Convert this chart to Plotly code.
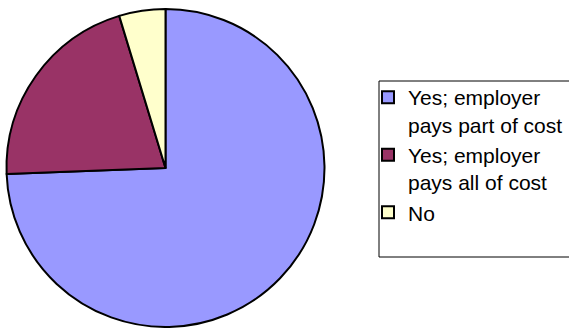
import plotly.graph_objects as go

labels = ["Yes; employer<br>pays part of cost", "Yes; employer<br>pays all of cost", "No"]
values = [74.4, 20.9, 4.7]
colors = ["#9999FF", "#993366", "#FFFFCC"]

W, H = 569, 328

fig = go.Figure(go.Pie(
    labels=labels,
    values=values,
    sort=False,
    direction="clockwise",
    rotation=0,
    marker=dict(colors=colors, line=dict(color="black", width=2)),
    textinfo="none",
    hoverinfo="label+percent",
    domain=dict(x=[6 / W, 325 / W], y=[1 - 327 / H, 1 - 9 / H]),
))

fig.update_layout(
    width=W, height=H,
    margin=dict(l=0, r=0, t=0, b=0),
    paper_bgcolor="white",
    plot_bgcolor="white",
    showlegend=True,
    legend=dict(
        x=368 / W, xanchor="left",
        y=1 - 77 / H, yanchor="top",
        font=dict(family="Liberation Sans, Arial, sans-serif", size=21, color="black"),
        bgcolor="rgba(0,0,0,0)",
        borderwidth=0,
        valign="top",
        traceorder="normal",
    ),
    shapes=[dict(
        type="rect", xref="paper", yref="paper",
        x0=379 / W, x1=1.02, y0=1 - 257 / H, y1=1 - 81 / H,
        line=dict(color="black", width=1), fillcolor="rgba(0,0,0,0)",
        layer="below",
    )],
)

fig.write_html("out.html")
